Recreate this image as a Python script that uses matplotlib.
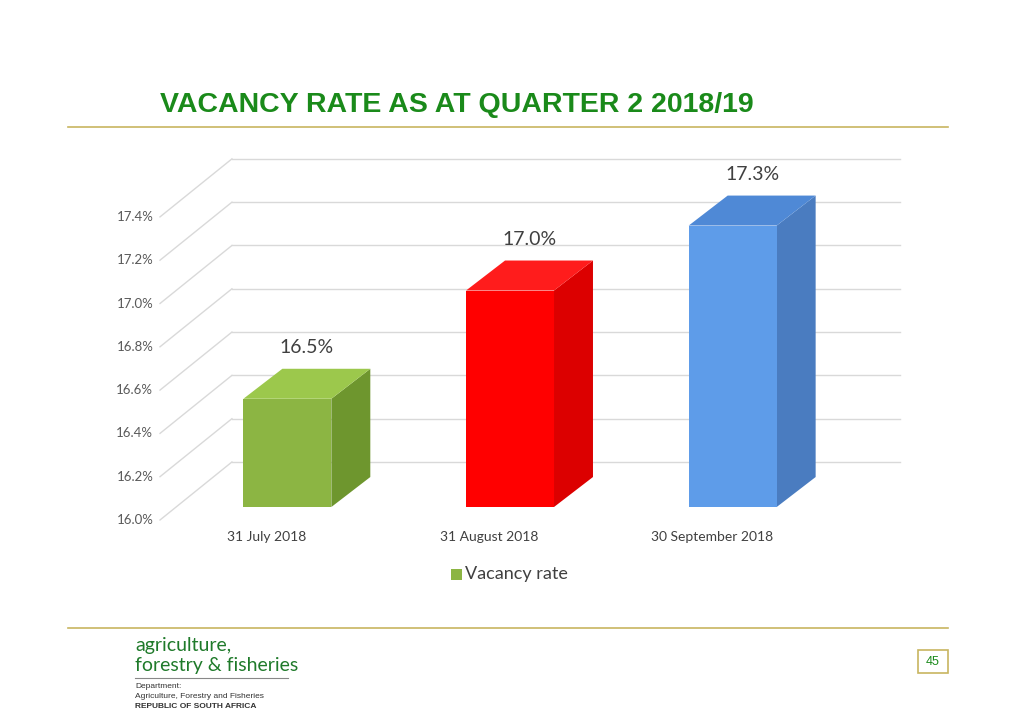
import matplotlib
matplotlib.use("Agg")
import matplotlib.pyplot as plt
from matplotlib.patches import Polygon, Rectangle
from matplotlib.lines import Line2D

categories = ["31 July 2018", "31 August 2018", "30 September 2018"]
values = [16.5, 17.0, 17.3]
labels = ["16.5%", "17.0%", "17.3%"]
yticks = [16.0, 16.2, 16.4, 16.6, 16.8, 17.0, 17.2, 17.4]
front_c = ["#8cb543", "#ff0000", "#5e9ce9"]
top_c = ["#9cc84c", "#ff1c1c", "#4f89d6"]
side_c = ["#6e962e", "#dc0000", "#4a7cc0"]

W, H = 1024, 724
fig = plt.figure(figsize=(W/100, H/100), dpi=100)
fig.patch.set_facecolor("white")

def fy(p): return 1 - p / H
ax = fig.add_axes([160/W, fy(520), (828-160)/W, (346.4)/H])
ax.set_xlim(-0.5, 2.5); ax.set_ylim(16.0, 17.6)
ax.axis("off")

bx, by = 0.323, 0.268
fx, fyo = 0.072, 0.060
dx, dy = 0.175, 0.1385
w = 0.395
grid = "#d9d9d9"
for t in yticks:
    ax.add_line(Line2D([-0.5 + bx, 2.5 + bx], [t + by, t + by], color=grid, lw=1, clip_on=False, zorder=1))
    ax.add_line(Line2D([-0.5, -0.5 + bx], [t, t + by], color=grid, lw=1, clip_on=False, zorder=1))
    ax.text(-0.53, t, f"{t:.1f}%", ha="right", va="center", fontsize=9.5, color="#595959", family="Lato")

for i, v in enumerate(values):
    l = i - w/2 + fx; r = i + w/2 + fx; b = 16.0 + fyo; tp = v + fyo
    ax.add_patch(Polygon([[r, b], [r + dx, b + dy], [r + dx, tp + dy], [r, tp]], closed=True, fc=side_c[i], ec="none", clip_on=False, zorder=3))
    ax.add_patch(Polygon([[l, tp], [r, tp], [r + dx, tp + dy], [l + dx, tp + dy]], closed=True, fc=top_c[i], ec="none", clip_on=False, zorder=3))
    ax.add_patch(Rectangle((l, b), w, v - 16.0, fc=front_c[i], ec="none", clip_on=False, zorder=3))
    ax.text(i + fx + dx/2, tp + dy + 0.06, labels[i], ha="center", va="bottom", fontsize=14, color="#404040", family="Lato", zorder=4)
    ax.text(i - 0.02, 15.95, categories[i], ha="center", va="top", fontsize=10, color="#404040", family="Lato")

fig.patches.append(Rectangle((451/W, fy(580)), 11/W, 11/H, transform=fig.transFigure, fc=front_c[0], ec="none"))
fig.text(465/W, fy(574), "Vacancy rate", fontsize=13, color="#404040", family="Lato", va="center")

fig.text(160/W, fy(105), "VACANCY RATE AS AT QUARTER 2 2018/19", fontsize=20.5, fontweight="bold",
         color="#1a8a1a", family="Liberation Sans", va="center")
for yy in (127, 628):
    fig.add_artist(Line2D([68/W, 948/W], [fy(yy), fy(yy)], color="#c8b560", lw=1.2))
fig.patches.append(Rectangle((918/W, fy(673)), 30/W, 23/H, transform=fig.transFigure, fc="white", ec="#c8b560", lw=1.2))
fig.text(933/W, fy(662), "45", fontsize=9, color="#1a8a1a", ha="center", va="center", family="Liberation Sans")

fig.text(135/W, fy(645), "agriculture,", fontsize=14, color="#1f7a2a", family="Lato", va="center")
fig.text(135/W, fy(666), "forestry & fisheries", fontsize=14, color="#1f7a2a", family="Lato", va="center")
fig.add_artist(Line2D([135/W, 288/W], [fy(678), fy(678)], color="#888888", lw=0.8))
fig.text(135/W, fy(686), "Department:", fontsize=6, color="#333333", family="Liberation Sans", va="center")
fig.text(135/W, fy(696), "Agriculture, Forestry and Fisheries", fontsize=6, color="#333333", family="Liberation Sans", va="center")
fig.text(135/W, fy(706), "REPUBLIC OF SOUTH AFRICA", fontsize=6, fontweight="bold", color="#333333", family="Liberation Sans", va="center")

fig.savefig("out.png", dpi=100, facecolor="white")
